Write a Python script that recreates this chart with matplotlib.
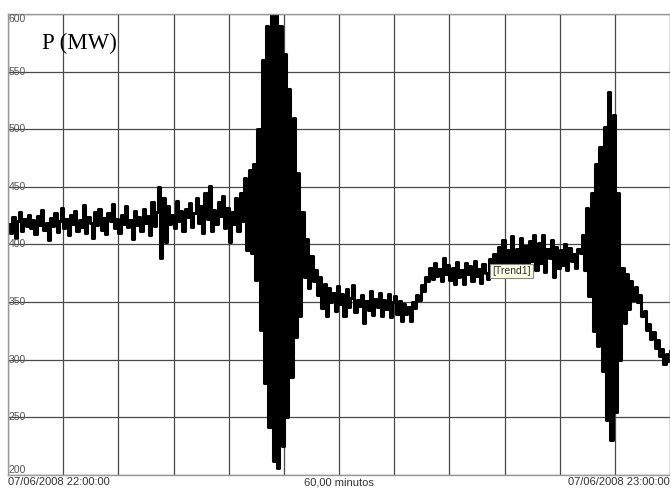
import matplotlib.pyplot as plt
import numpy as np

# power trace, one sample every 0.2 min (12 s)
STEP_MIN = 0.2
power_mw = [
    418, 410, 424, 406, 420, 428, 412, 422, 416, 426,
    414, 421, 409, 425, 417, 430, 413, 419, 404, 423,
    416, 427, 411, 420, 432, 414, 422, 408, 426, 418,
    429, 412, 421, 415, 434, 410, 424, 419, 406, 428,
    417, 431, 413, 423, 409, 427, 420, 435, 414, 422,
    410, 426, 418, 433, 415, 421, 405, 429, 417, 424,
    412, 431, 419, 425, 408, 437, 416, 428, 450, 388,
    440, 402, 433, 418, 426, 414, 438, 420, 429, 412,
    431, 424, 436, 415, 427, 440, 419, 433, 410, 445,
    422, 451, 412, 430, 418, 437, 425, 442, 414, 432,
    402, 428, 418, 440, 412, 445, 420, 458, 395, 465,
    393, 470, 369, 500, 326, 560, 280, 590, 242, 600,
    212, 608, 206, 590, 225, 565, 250, 535, 285, 510,
    320, 462, 338, 428, 372, 405, 362, 390, 368, 378,
    356, 372, 345, 366, 338, 362, 350, 358, 342, 364,
    348, 357, 338, 361, 346, 354, 365, 341, 352, 347,
    356, 332, 351, 343, 360, 339, 353, 346, 358, 338,
    352, 344, 357, 337, 350, 355, 340, 351, 334, 348,
    340, 346, 334, 350, 345, 356, 352, 365, 360, 372,
    368, 380, 370, 384, 373, 379, 368, 388, 374, 382,
    369, 380, 366, 385, 372, 378, 366, 384, 374, 381,
    368, 386, 373, 379, 367, 383, 375, 370, 387, 380,
    392, 378, 398, 383, 404, 376, 395, 384, 407, 380,
    396, 377, 406, 382, 399, 375, 403, 386, 408, 378,
    401, 384, 408, 376, 396, 388, 404, 372, 398, 380,
    395, 382, 400, 378, 397, 386, 392, 380, 396, 393,
    408, 378, 432, 355, 445, 325, 470, 312, 485, 290,
    502, 248, 532, 230, 512, 255, 445, 300, 380, 332,
    374, 344, 368, 352, 363, 350, 356, 338, 342, 326,
    331, 318, 324, 310, 317, 303, 309, 296, 305, 299,
    308,
]
minutes = np.arange(len(power_mw)) * STEP_MIN

y_ticks = [200, 250, 300, 350, 400, 450, 500, 550, 600]
x_ticks = list(range(0, 61, 5))
start_label = "07/06/2008 22:00:00"
end_label = "07/06/2008 23:00:00"
span_label = "60,00 minutos"

fig = plt.figure(figsize=(6.7, 4.91), dpi=100)
ax = fig.add_axes([8 / 670, 16 / 491, 662 / 670, 461 / 491])

# the recorder draws sample-and-hold steps
ax.plot(minutes, power_mw, color="black", linewidth=2.2, drawstyle="steps-post")

ax.set_xlim(0, 60)
ax.set_ylim(200, 600)
ax.set_xticks(x_ticks)
ax.set_yticks(y_ticks)
ax.grid(True, color="#4a4a4a", linewidth=0.9)
ax.tick_params(length=0, labelbottom=False, labelleft=False)
for side in ax.spines.values():
    side.set_color("#999999")
    side.set_linewidth(1.0)

# y labels sit inside the plot, squeezed at the top and bottom
for v in y_ticks:
    va = "center"
    if v == y_ticks[-1]:
        va = "top"
    elif v == y_ticks[0]:
        va = "bottom"
    ax.text(0.05, v, str(v), fontsize=7.5, color="#555555", ha="left", va=va,
            family="Liberation Sans")

ax.text(0.0, -0.005, start_label, transform=ax.transAxes, ha="left", va="top",
        fontsize=8, color="#333333", family="Liberation Sans")
ax.text(0.5, -0.005, span_label, transform=ax.transAxes, ha="center", va="top",
        fontsize=8, color="#333333", family="Liberation Sans")
ax.text(1.0, -0.005, end_label, transform=ax.transAxes, ha="right", va="top",
        fontsize=8, color="#333333", family="Liberation Sans")

ax.text(3.1, 584, "P (MW)", fontsize=16.5, family="Liberation Serif", ha="left", va="top")

ax.text(45.6, 377, "[Trend1]", fontsize=7.5, family="Liberation Sans", ha="center", va="center",
        color="#333333",
        bbox=dict(boxstyle="square,pad=0.2", facecolor="#ffffe6", edgecolor="#888888", linewidth=0.8))

fig.savefig("out.png", dpi=100)
